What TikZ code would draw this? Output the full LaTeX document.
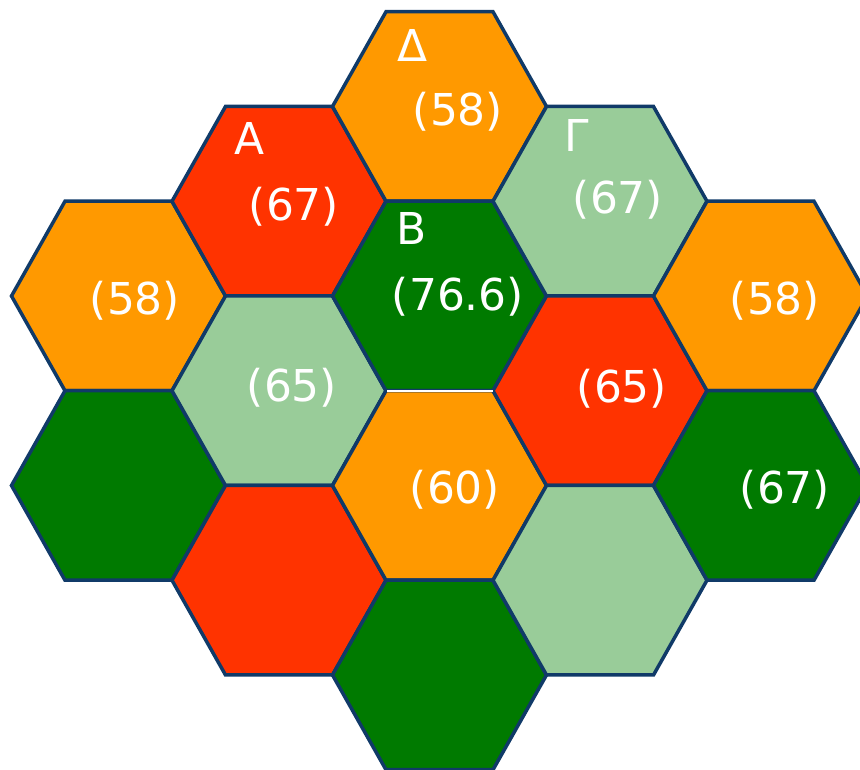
\documentclass[tikz,border=0pt]{standalone}
\usepackage{fontspec}
\setmainfont{DejaVu Sans}
\usetikzlibrary{positioning}
\definecolor{edge}{HTML}{103A68}
\definecolor{amber}{HTML}{FF9900}
\definecolor{scarlet}{HTML}{FF3300}
\definecolor{forest}{HTML}{007A00}
\definecolor{sage}{HTML}{99CC99}
\tikzset{cell/.style={draw=edge,line width=0.07cm,line join=miter},
  val/.style={text=white,inner sep=0pt,font=\fontsize{25}{28}\selectfont},
  tag/.style={val},
  seam/.style={draw=white,line width=0.04cm}}

\begin{document}
\begin{tikzpicture}[x=0.02cm,y=-0.02cm]
\useasboundingbox (0,0) rectangle (860,770);
% hex cells: centre x / centre y / fill
\foreach \cx/\cy/\cc in {118.5/296/amber,118.5/485.5/forest,
  279/201.25/scarlet,279/390.75/sage,279/580.25/scarlet,
  439.5/106.5/amber,439.5/296/forest,439.5/485.5/amber,439.5/675/forest,
  600/201.25/sage,600/390.75/scarlet,600/580.25/sage,
  760.5/296/amber,760.5/485.5/forest}
  \filldraw[cell,fill=\cc,shift={(\cx,\cy)}] (-107,0)--(-53.5,-94.75)--(53.5,-94.75)
    --(107,0)--(53.5,94.75)--(-53.5,94.75)--cycle;
\coordinate (sl) at (387,391.5);\coordinate (sr) at (493,391.5);
\draw[seam] (sl)--(sr);
% letters
\node[tag] (delta) at (413,45) {Δ};
\node[tag] (alpha) at (250,138) {Α};
\node[tag] (beta) at (412,228) {Β};
\node[tag] (gamma) at (577,135) {Γ};
% values
\node[val] (vdelta) at (458,112) {(58)};
\node[val] (valpha) at (294,207) {(67)};
\node[val] (vbeta) at (458,297) {(76.6)};
\node[val] (vgamma) at (618,200) {(67)};
\node[val] (vwest) at (135,301) {(58)};
\node[val] (vsage) at (292,388) {(65)};
\node[val] (vred) at (622,389) {(65)};
\node[val] (veast) at (775,301) {(58)};
\node[val] (vmid) at (455,490) {(60)};
\node[val] (vse) at (785,490) {(67)};
\end{tikzpicture}
\end{document}
